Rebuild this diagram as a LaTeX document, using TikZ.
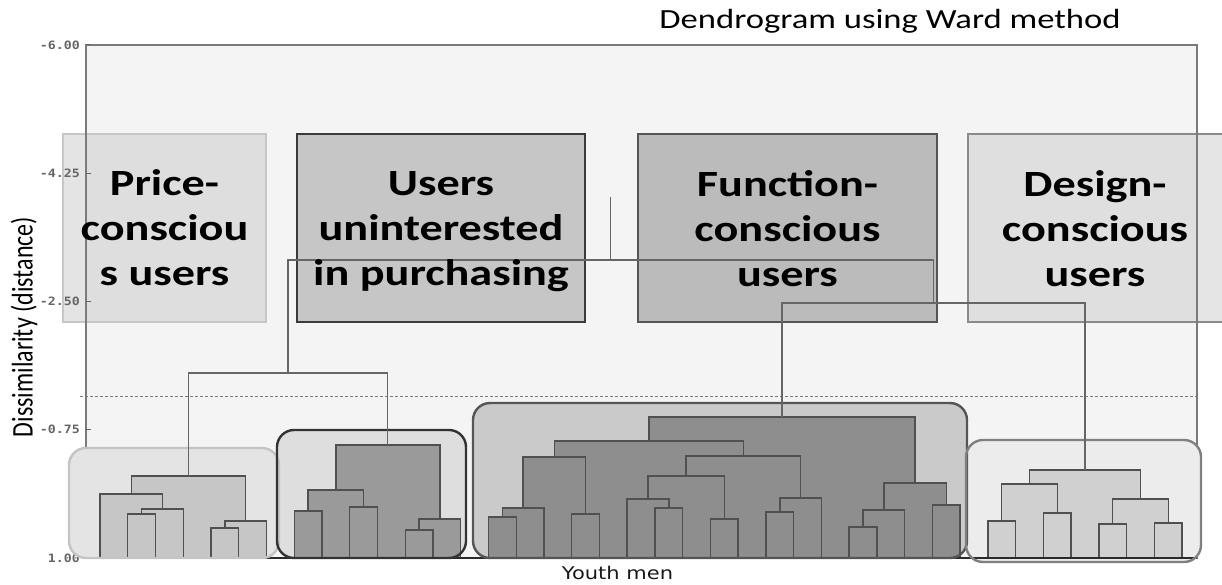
\documentclass[tikz,border=0pt]{standalone}
\usepackage{graphicx}
\usepackage{fontspec}
\setmainfont{Carlito}
\newfontfamily\widefont[FakeStretch=1.25]{Carlito}
\newfontfamily\tickfont[FakeStretch=1.15]{DejaVu Sans Mono}
\newfontfamily\widesans[FakeStretch=1.2]{DejaVu Sans}

\definecolor{panel}{HTML}{F4F4F4}
\definecolor{frameline}{HTML}{7A7A7A}
\definecolor{tickgray}{HTML}{666666}
\definecolor{dashgray}{HTML}{7A7A7A}
\definecolor{conngray}{HTML}{666666}
\definecolor{dendroline}{HTML}{505050}
\definecolor{baseblack}{HTML}{2A2A2A}
% group label boxes
\definecolor{lblPfill}{HTML}{C4C4C4}
\definecolor{lblPdraw}{HTML}{C6C6C6}
\definecolor{lblUfill}{HTML}{C6C6C6}
\definecolor{lblUdraw}{HTML}{3A3A3A}
\definecolor{lblFfill}{HTML}{BBBBBB}
\definecolor{lblFdraw}{HTML}{555555}
\definecolor{lblDfill}{HTML}{C0C0C0}
\definecolor{lblDdraw}{HTML}{8A8A8A}
% cluster boxes and dendrogram fills
\definecolor{boxP}{HTML}{E4E4E4}
\definecolor{boxPdraw}{HTML}{C4C4C4}
\definecolor{boxU}{HTML}{DEDEDE}
\definecolor{boxUdraw}{HTML}{333333}
\definecolor{boxF}{HTML}{CACACA}
\definecolor{boxFdraw}{HTML}{555555}
\definecolor{boxD}{HTML}{ECECEC}
\definecolor{boxDdraw}{HTML}{808080}
\definecolor{denP}{HTML}{C6C6C6}
\definecolor{denU}{HTML}{9A9A9A}
\definecolor{denF}{HTML}{8E8E8E}
\definecolor{denD}{HTML}{D0D0D0}

% one merge of the dendrogram: a filled block from the merge height down to the baseline
\newcommand\dlink[4]{\path[dendro,fill=#1] (#2,#4) rectangle (#3,558);}

\begin{document}
\begin{tikzpicture}[x=1pt,y=-1pt,
  panelframe/.style={draw=frameline,line width=1.2pt},
  tickmark/.style={draw=tickgray,line width=1pt},
  ticklabel/.style={anchor=east,inner sep=0pt,text=tickgray,font=\tickfont\bfseries\fontsize{11.5}{13}\selectfont},
  cutline/.style={draw=dashgray,line width=1pt,dash pattern=on 2.5pt off 2.5pt},
  conn/.style={draw=conngray,line width=1.3pt},
  groupbox/.style={line width=2.2pt},
  clusterbox/.style={rounded corners=17pt,line width=2.4pt},
  dendro/.style={draw=dendroline,line width=1.4pt},
  grouplabel/.style={anchor=north,inner sep=0pt,align=center,text=black,
    font=\widefont\bfseries\fontsize{37}{45}\selectfont},
]
\useasboundingbox (0,0) rectangle (1222,585);
\fill[white] (0,0) rectangle (1222,585);

% plot panel
\fill[panel] (86,45) rectangle (1197,558);

% group label boxes
\path[groupbox,fill=lblPfill,fill opacity=0.45,draw=lblPdraw] (63,134) rectangle (266,322);
\path[groupbox,fill=lblUfill,draw=lblUdraw] (297,134) rectangle (585,322);
\path[groupbox,fill=lblFfill,draw=lblFdraw] (638,134) rectangle (937,322);
\path[groupbox,fill=lblDfill,fill opacity=0.4,draw=lblDdraw] (968,134) rectangle (1230,322);

% panel frame, ticks and cut line
\draw[panelframe] (86,45) rectangle (1197,558);
\foreach \yy/\lab [count=\i] in {45/-6.00,173.2/-4.25,301.5/-2.50,429.7/-0.75,558/1.00}{
  \draw[tickmark] (86,\yy) -- (91,\yy);
  \node[ticklabel] (tick\i) at (80,\yy) {\lab};
}
\draw[cutline] (80,396) -- (1197,396);

% cluster boxes (fill)
\fill[boxP,rounded corners=17pt] (69,448) rectangle (279,558);
\fill[boxU,rounded corners=17pt] (277,430) rectangle (466,558);
\fill[boxF,rounded corners=17pt] (473,403) rectangle (967,558);
\fill[boxD,rounded corners=17pt] (966,440) rectangle (1201,562);

% price-conscious cluster
\dlink{denP}{131.2}{245.7}{476}
\dlink{denP}{100}{162.4}{494}
\dlink{denP}{141.6}{183.2}{509}
\dlink{denP}{127.7}{155.5}{514}
\dlink{denP}{224.9}{266.5}{521}
\dlink{denP}{211}{238.7}{528}

% users uninterested in purchasing
\dlink{denU}{335.8}{439.9}{445}
\dlink{denU}{308.1}{363.6}{490}
\dlink{denU}{294.2}{322}{511}
\dlink{denU}{349.7}{377.4}{507}
\dlink{denU}{419}{460.7}{519}
\dlink{denU}{405.2}{432.9}{530}

% function-conscious cluster
\dlink{denF}{648.8}{915}{417}
\dlink{denF}{554.3}{743.3}{441}
\dlink{denF}{523.1}{585.5}{457}
\dlink{denF}{502.3}{543.9}{508}
\dlink{denF}{488.4}{516.2}{517}
\dlink{denF}{571.6}{599.4}{514}
\dlink{denF}{686.1}{800.6}{456}
\dlink{denF}{648}{724.2}{476}
\dlink{denF}{627.1}{668.8}{499}
\dlink{denF}{654.9}{682.6}{508}
\dlink{denF}{710.4}{738.1}{519}
\dlink{denF}{779.8}{821.3}{498}
\dlink{denF}{765.9}{793.6}{512}
\dlink{denF}{883.8}{946.2}{483}
\dlink{denF}{863}{904.6}{510}
\dlink{denF}{849.1}{876.8}{527}
\dlink{denF}{932.3}{960.1}{505}

% design-conscious cluster
\dlink{denD}{1029.4}{1140.4}{470}
\dlink{denD}{1001.7}{1057.2}{484}
\dlink{denD}{987.8}{1015.5}{521}
\dlink{denD}{1043.3}{1071}{513}
\dlink{denD}{1112.7}{1168.2}{499}
\dlink{denD}{1098.8}{1126.5}{524}
\dlink{denD}{1154.3}{1182}{523}

% baseline
\draw[draw=baseblack,line width=1.5pt] (86,558) -- (1197,558);

% cluster boxes (outline)
\draw[clusterbox,draw=boxPdraw] (69,448) rectangle (279,558);
\draw[clusterbox,draw=boxUdraw] (277,430) rectangle (466,558);
\draw[clusterbox,draw=boxFdraw] (473,403) rectangle (967,558);
\draw[clusterbox,draw=boxDdraw] (966,440) rectangle (1201,562);

% upper merges between the four clusters
\coordinate (topP) at (188.4,476);
\coordinate (topU) at (387.8,445);
\coordinate (topF) at (781.9,417);
\coordinate (topD) at (1084.9,470);
\coordinate (jPU) at (288.1,373);
\coordinate (jFD) at (933.4,303);
\coordinate (jAll) at (610.7,260);
\coordinate (rootTop) at (610.7,197);
\draw[conn] (topP) |- (jPU) -| (topU);
\draw[conn] (jPU) |- (jAll) -| (jFD);
\draw[conn] (topF) |- (jFD) -| (topD);
\draw[conn] (jAll) -- (rootTop);

% group labels
\node[grouplabel] (lblP) at (164.5,163.5) {\strut Price-\\\strut consciou\\\strut s users};
\node[grouplabel] (lblU) at (441,163.5) {\strut Users\\\strut uninterested\\\strut in purchasing};
\node[grouplabel] (lblF) at (787.5,164.5) {\strut Function-\\\strut conscious\\\strut users};
\node[grouplabel] (lblD) at (1095,165) {\strut Design-\\\strut conscious\\\strut users};

% titles
\node[anchor=base,inner sep=0pt,font=\widefont\fontsize{27.7}{32}\selectfont] (title) at (890,29) {Dendrogram using Ward method};
\node[anchor=base,inner sep=0pt,text=black!90,font=\widesans\fontsize{17.5}{20}\selectfont] (xlab) at (617.5,579) {Youth men};
\node[rotate=90,inner sep=0pt] (ylab) at (24,327) {\scalebox{1}[1.25]{\fontsize{24}{28}\selectfont Dissimilarity (distance)}};
\end{tikzpicture}
\end{document}
